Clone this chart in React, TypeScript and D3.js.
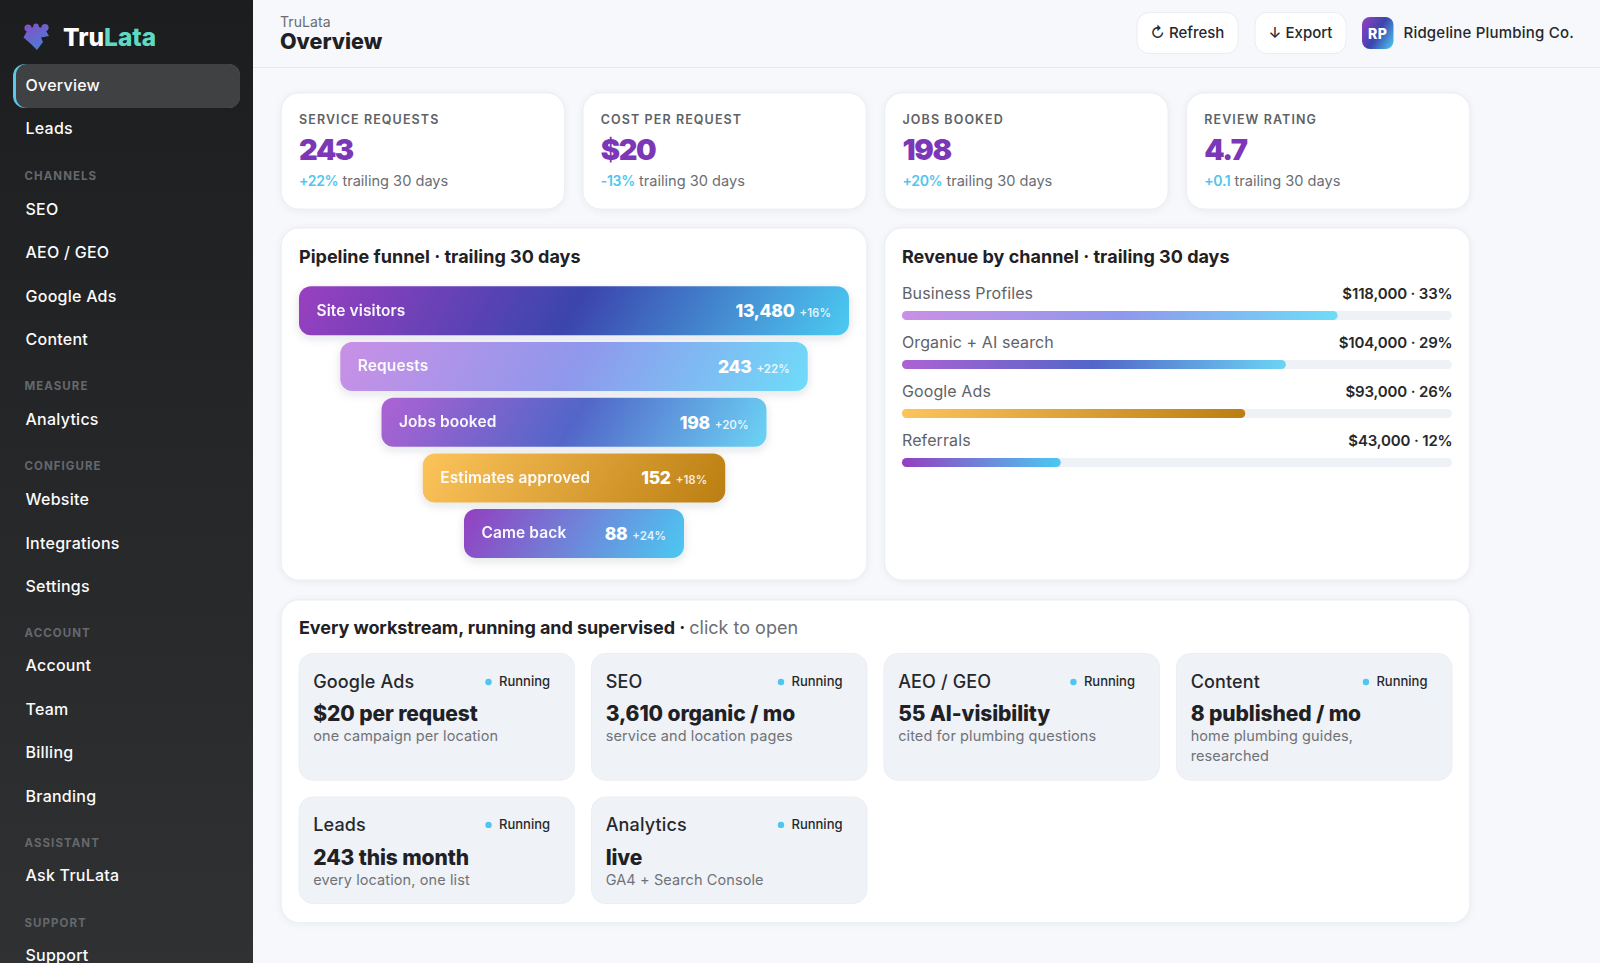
import React, { useEffect, useRef } from 'react';
import * as d3 from 'd3';

// Sidebar
const navGroups = [
  { title: '', items: ['Overview', 'Leads'] },
  { title: 'CHANNELS', items: ['SEO', 'AEO / GEO', 'Google Ads', 'Content'] },
  { title: 'MEASURE', items: ['Analytics'] },
  { title: 'CONFIGURE', items: ['Website', 'Integrations', 'Settings'] },
  { title: 'ACCOUNT', items: ['Account', 'Team', 'Billing', 'Branding'] },
  { title: 'ASSISTANT', items: ['Ask TruLata'] },
  { title: 'SUPPORT', items: ['Support'] },
];

// KPI cards
const kpiLabels = ['SERVICE REQUESTS', 'COST PER REQUEST', 'JOBS BOOKED', 'REVIEW RATING'];
const kpiValues = ['243', '$20', '198', '4.7'];
const kpiDeltas = ['+22%', '-13%', '+20%', '+0.1'];

// Funnel
const funnelLabels = ['Site visitors', 'Requests', 'Jobs booked', 'Estimates approved', 'Came back'];
const funnelValues = [13480, 243, 198, 152, 88];
const funnelDeltas = ['+16%', '+22%', '+20%', '+18%', '+24%'];
const funnelStage = [100, 85, 70, 55, 40];

// Revenue
const revenueLabels = ['Business Profiles', 'Organic + AI search', 'Google Ads', 'Referrals'];
const revenueValues = [118000, 104000, 93000, 43000];
const revenueShares = [33, 29, 26, 12];

// Workstreams
const workNames = ['Google Ads', 'SEO', 'AEO / GEO', 'Content', 'Leads', 'Analytics'];
const workMetrics = ['$20 per request', '3,610 organic / mo', '55 AI-visibility', '8 published / mo', '243 this month', 'live'];
const workNotes = [
  ['one campaign per location'],
  ['service and location pages'],
  ['cited for plumbing questions'],
  ['home plumbing guides,', 'researched'],
  ['every location, one list'],
  ['GA4 + Search Console'],
];

const gradients: Record<string, string[]> = {
  brand: ['#9a3fc0', '#3b45ad', '#4ccbf2'],
  light: ['#c990e6', '#8f98ec', '#6edcf9'],
  mid: ['#ad62d3', '#5266c8', '#6cd4f5'],
  amber: ['#fdc45c', '#bb7e12'],
  soft: ['#933fc0', '#4bc9f2'],
  logo: ['#8a4cc4', '#3e86d8'],
};
const funnelFills = ['brand', 'light', 'mid', 'amber', 'soft'];
const revenueFills = ['light', 'mid', 'amber', 'soft'];

const SANS = 'Inter, sans-serif';

type Style = { size: number; weight?: number; fill: string; ls?: number; anchor?: string; opacity?: number };
type Sel = d3.Selection<any, any, any, any>;

const label = (g: Sel, x: number, y: number, str: string, s: Style) =>
  g.append('text')
    .attr('x', x)
    .attr('y', y)
    .attr('font-family', SANS)
    .attr('font-size', s.size)
    .attr('font-weight', s.weight ?? 400)
    .attr('fill', s.fill)
    .attr('letter-spacing', s.ls ?? 0)
    .attr('text-anchor', s.anchor ?? 'start')
    .attr('opacity', s.opacity ?? 1)
    .text(str);

const panel = (g: Sel, x: number, y: number, w: number, h: number) =>
  g.append('rect')
    .attr('x', x)
    .attr('y', y)
    .attr('width', w)
    .attr('height', h)
    .attr('rx', 18)
    .attr('fill', '#ffffff')
    .attr('stroke', '#eceff4')
    .attr('stroke-width', 1.5)
    .attr('filter', 'url(#cardShadow)');

export default function App() {
  const ref = useRef<SVGSVGElement>(null);

  useEffect(() => {
    if (!ref.current) return;
    const svg = d3.select(ref.current);
    svg.selectAll('*').remove();
    const defs = svg.append('defs');
    let gradId = 0;

    // same maths as a css linear-gradient, so the mid stop leans across the bar
    const cssGradient = (name: string, x: number, y: number, w: number, h: number, deg: number) => {
      const id = `grad${gradId++}`;
      const a = (deg * Math.PI) / 180;
      const len = Math.abs(w * Math.sin(a)) + Math.abs(h * Math.cos(a));
      const cx = x + w / 2;
      const cy = y + h / 2;
      const grad = defs.append('linearGradient')
        .attr('id', id)
        .attr('gradientUnits', 'userSpaceOnUse')
        .attr('x1', cx - (Math.sin(a) * len) / 2)
        .attr('y1', cy + (Math.cos(a) * len) / 2)
        .attr('x2', cx + (Math.sin(a) * len) / 2)
        .attr('y2', cy - (Math.cos(a) * len) / 2);
      const stops = gradients[name];
      stops.forEach((c, i) => {
        grad.append('stop').attr('offset', i / (stops.length - 1)).attr('stop-color', c);
      });
      return `url(#${id})`;
    };

    const cardShadow = defs.append('filter').attr('id', 'cardShadow')
      .attr('x', '-5%').attr('y', '-10%').attr('width', '110%').attr('height', '120%');
    cardShadow.append('feDropShadow').attr('dx', 0).attr('dy', 1).attr('stdDeviation', 3)
      .attr('flood-color', '#1c2a44').attr('flood-opacity', 0.05);
    const barShadow = defs.append('filter').attr('id', 'barShadow')
      .attr('x', '-5%').attr('y', '-20%').attr('width', '110%').attr('height', '150%');
    barShadow.append('feDropShadow').attr('dx', 0).attr('dy', 3).attr('stdDeviation', 5)
      .attr('flood-color', '#1c2a44').attr('flood-opacity', 0.13);

    svg.append('rect').attr('width', 1600).attr('height', 963).attr('fill', '#f6f8fb');

    // Sidebar
    const side = svg.append('g');
    const sideFill = defs.append('linearGradient').attr('id', 'sideFill')
      .attr('x1', 0).attr('y1', 0).attr('x2', 0).attr('y2', 1);
    sideFill.append('stop').attr('offset', 0).attr('stop-color', '#1b1d1f');
    sideFill.append('stop').attr('offset', 1).attr('stop-color', '#2f3133');
    side.append('rect').attr('width', 253).attr('height', 963).attr('fill', 'url(#sideFill)');

    // logo: a puzzle piece turned on its corner
    const logo = side.append('g').attr('fill', cssGradient('logo', 23, 23, 28, 28, 150));
    logo.append('path').attr('d', 'M23.5 37.5 L28 29 L36 26 L45 29 L49 36 L41 37.5 L43 42 L37 50 L31 44 Z');
    logo.append('circle').attr('cx', 28).attr('cy', 28).attr('r', 3.6);
    logo.append('circle').attr('cx', 36).attr('cy', 26.4).attr('r', 2.8);
    logo.append('circle').attr('cx', 45).attr('cy', 27.6).attr('r', 3.6);
    const logoText = label(side, 63, 46, 'Tru', { size: 24.5, weight: 800, fill: '#ffffff' });
    logoText.append('tspan').attr('fill', '#5ed9c3').text('Lata');

    side.append('rect').attr('x', 13).attr('y', 64).attr('width', 227).attr('height', 44).attr('rx', 12).attr('fill', '#5bc8e8');
    side.append('rect').attr('x', 16).attr('y', 64).attr('width', 224).attr('height', 44).attr('rx', 11).attr('fill', '#404143');

    const navY = [[85.3, 128.3], [209.3, 252.5, 296.2, 339.3], [419.3], [499.3, 542.9, 586.2], [665.5, 709.2, 752.5, 796.2], [875], [955]];
    const headY = [0, 175.5, 386, 466, 633, 843, 922.5];
    navGroups.forEach((group, gi) => {
      if (group.title) {
        label(side, 24.5, headY[gi] + 4.3, group.title, { size: 11.5, weight: 700, fill: '#66686c', ls: 1.05 });
      }
      group.items.forEach((item, i) => {
        label(side, 25.5, navY[gi][i] + 5.6, item, { size: 16, weight: 500, fill: '#fbfbfb', ls: 0.25 });
      });
    });

    // Header
    const head = svg.append('g');
    head.append('line').attr('x1', 253).attr('x2', 1600).attr('y1', 67.5).attr('y2', 67.5).attr('stroke', '#e6eaf0');
    label(head, 280, 27, 'TruLata', { size: 14, fill: '#696d72', ls: 0.1 });
    label(head, 280, 49, 'Overview', { size: 21.5, weight: 800, fill: '#1f2124' });
    const buttons = [
      { text: '↻ Refresh', x: 1137, w: 101 },
      { text: '↓ Export', x: 1255, w: 91 },
    ];
    buttons.forEach(b => {
      head.append('rect').attr('x', b.x).attr('y', 12.5).attr('width', b.w).attr('height', 41).attr('rx', 12)
        .attr('fill', '#ffffff').attr('stroke', '#e9ecf1');
      label(head, b.x + b.w / 2, 37.7, b.text, { size: 15, weight: 500, fill: '#26282b', anchor: 'middle' });
    });
    head.append('rect').attr('x', 1362).attr('y', 17).attr('width', 31.5).attr('height', 32).attr('rx', 8)
      .attr('fill', cssGradient('brand', 1362, 17, 31.5, 32, 120));
    label(head, 1377.8, 38.7, 'RP', { size: 14, weight: 800, fill: '#ffffff', anchor: 'middle', ls: 0.5 });
    label(head, 1403.5, 37.7, 'Ridgeline Plumbing Co.', { size: 15, weight: 500, fill: '#26282b', ls: 0.2 });

    // KPI cards
    const kpiX = d3.scaleBand<number>().domain(d3.range(kpiLabels.length)).range([281, 1470]).paddingInner(0.0597);
    const kpi = svg.append('g');
    kpiLabels.forEach((name, i) => {
      const x = kpiX(i) as number;
      panel(kpi, x, 92.7, kpiX.bandwidth(), 116.6);
      const tx = x + 18;
      label(kpi, tx, 124, name, { size: 12.5, weight: 600, fill: '#5e6266', ls: 1.1 });
      label(kpi, tx, 159.5, kpiValues[i], { size: 29, weight: 900, fill: '#7b37b7', ls: -1.4 });
      const delta = label(kpi, tx, 186, kpiDeltas[i], { size: 14, weight: 600, fill: '#4fc6ee', ls: -0.3 });
      delta.append('tspan').attr('dx', 4).attr('fill', '#6a6e73').attr('font-weight', 400)
        .attr('font-size', 14.6).attr('letter-spacing', 0).text('trailing 30 days');
    });

    // Pipeline funnel
    const funnel = svg.append('g');
    panel(funnel, 281, 227.7, 586, 352.6);
    label(funnel, 299, 263, 'Pipeline funnel · trailing 30 days', { size: 18, weight: 700, fill: '#1f2124' });
    const stageW = d3.scaleLinear().domain([0, 100]).range([0, 550]);
    const stageY = d3.scaleBand<number>().domain(d3.range(funnelLabels.length)).range([286.3, 558.1]).paddingInner(0.12);
    funnelLabels.forEach((name, i) => {
      const w = stageW(funnelStage[i]);
      const x = 574 - w / 2;
      const y = stageY(i) as number;
      const h = stageY.bandwidth();
      funnel.append('rect').attr('x', x).attr('y', y).attr('width', w).attr('height', h).attr('rx', 12)
        .attr('fill', cssGradient(funnelFills[i], x, y, w, h, 120))
        .attr('filter', 'url(#barShadow)');
      label(funnel, x + 17.5, y + 29.3, name, { size: 15.5, weight: 600, fill: '#ffffff', opacity: 0.95, ls: 0.1 });
      const right = label(funnel, x + w - 18, y + 31, d3.format(',')(funnelValues[i]), { size: 17.5, weight: 800, fill: '#ffffff', anchor: 'end', ls: -0.3 });
      right.append('tspan').attr('dx', 5).attr('font-size', 11.5).attr('font-weight', 600).attr('fill-opacity', 0.85).attr('letter-spacing', 0).text(funnelDeltas[i]);
    });

    // Revenue by channel
    const revenue = svg.append('g');
    panel(revenue, 884.5, 227.7, 585.5, 352.6);
    label(revenue, 902, 263, 'Revenue by channel · trailing 30 days', { size: 18, weight: 700, fill: '#1f2124' });
    const revX = d3.scaleLinear().domain([0, 149000]).range([0, 550]);
    const revY = d3.scaleBand<number>().domain(d3.range(revenueLabels.length)).range([277, 473]);
    revenueLabels.forEach((name, i) => {
      const y = revY(i) as number;
      label(revenue, 902, y + 22, name, { size: 16, fill: '#5f6368', ls: 0.1 });
      label(revenue, 1452.5, y + 22, `${d3.format('$,')(revenueValues[i])} · ${revenueShares[i]}%`, { size: 15, weight: 600, fill: '#26282b', anchor: 'end', ls: -0.15 });
      revenue.append('rect').attr('x', 902).attr('y', y + 34).attr('width', 550).attr('height', 9).attr('rx', 4.5).attr('fill', '#eef1f6');
      const w = revX(revenueValues[i]);
      revenue.append('rect').attr('x', 902).attr('y', y + 34).attr('width', w).attr('height', 9).attr('rx', 4.5)
        .attr('fill', cssGradient(revenueFills[i], 902, y + 34, w, 9, 90));
    });

    // Workstreams
    const work = svg.append('g');
    panel(work, 281, 599.7, 1189, 323);
    const workTitle = label(work, 299, 634.3, 'Every workstream, running and supervised', { size: 18, weight: 700, fill: '#1f2124', ls: -0.07 });
    workTitle.append('tspan').text(' · ');
    workTitle.append('tspan').attr('fill', '#6b6f75').attr('font-weight', 400).attr('letter-spacing', 0).text('click to open');
    const cellX = d3.scaleBand<number>().domain(d3.range(4)).range([299, 1452]).paddingInner(0.0578);
    const rowY = [653.5, 797];
    const rowH = [126.7, 106.5];
    const rowNudge = [0, 0.6];
    workNames.forEach((name, i) => {
      const row = Math.floor(i / 4);
      const x = cellX(i % 4) as number;
      const y = rowY[row];
      work.append('rect').attr('x', x).attr('y', y).attr('width', cellX.bandwidth()).attr('height', rowH[row]).attr('rx', 14)
        .attr('fill', '#eff2f7').attr('stroke', '#ebeef3');
      label(work, x + 14.2, y + 34, name, { size: 18, weight: 500, fill: '#26282b', ls: 0.15 });
      work.append('circle').attr('cx', x + 189.5).attr('cy', y + 28.5 - rowNudge[row]).attr('r', 3.2).attr('fill', '#4fc6ee');
      label(work, x + 200, y + 32.5 - rowNudge[row], 'Running', { size: 13, weight: 500, fill: '#26282b' });
      label(work, x + 14.2, y + 67.3 + rowNudge[row], workMetrics[i], { size: 21, weight: 800, fill: '#1f2124', ls: -0.1 });
      workNotes[i].forEach((line, j) => {
        label(work, x + 14.2, y + 87.2 + rowNudge[row] + j * 20, line, { size: 14.5, fill: '#6f7378', ls: 0.1 });
      });
    });
  }, []);

  return (
    <svg
      ref={ref}
      width={1600}
      height={963}
      style={{ position: 'absolute', left: 0, top: 0, display: 'block' }}
    />
  );
}
